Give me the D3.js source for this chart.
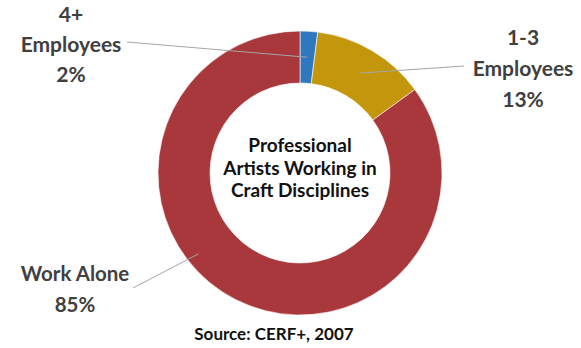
<!DOCTYPE html>
<html><head><meta charset="utf-8">
<script src="https://cdn.jsdelivr.net/npm/d3@7"></script>
<style>body{margin:0;background:#fff}svg{display:block}</style>
</head><body>
<script>
const categories = ["4+ Employees", "1-3 Employees", "Work Alone"];
const values = [2, 13, 85];
const colors = ["#2E78BF", "#C4960C", "#A8383B"];
const labelLines = [["4+", "Employees", "2%"], ["1-3", "Employees", "13%"], ["Work Alone", "85%"]];
const centerTitle = ["Professional", "Artists Working in", "Craft Disciplines"];
const sourceText = "Source: CERF+, 2007";

const W = 581, H = 348;
const cx = 300, cy = 173, rOuter = 142, rInner = 90;
const svg = d3.select("body").append("svg").attr("width", W).attr("height", H);
const g = svg.append("g").attr("transform", `translate(${cx},${cy})`);

const pie = d3.pie().sort(null).value(d => d);
const arcs = pie(values);
const arc = d3.arc().innerRadius(rInner).outerRadius(rOuter);

g.selectAll("path.slice").data(arcs).enter().append("path")
  .attr("class", "slice")
  .attr("d", arc)
  .attr("fill", (d, i) => colors[i])
  .attr("stroke", "#fff").attr("stroke-width", 0.6);

const labelPos = [
  {x: 71, y: 22, anchorX: 127, anchorY: 42},
  {x: 523, y: 45, anchorX: 464, anchorY: 66},
  {x: 75, y: 281, anchorX: 133, anchorY: 288}
];
const lineH = [30, 31, 31];
const labelSize = [21, 21, 20.5];
const fontFam = "Lato, 'Noto Sans', sans-serif";

arcs.forEach((a, i) => {
  let [px, py] = arc.centroid(a);
  if (i === 2) {
    const ang = a.startAngle + (a.endAngle - a.startAngle) * 0.58;
    const r = 130;
    px = r * Math.sin(ang); py = -r * Math.cos(ang);
  }
  svg.append("line")
    .attr("x1", labelPos[i].anchorX).attr("y1", labelPos[i].anchorY)
    .attr("x2", cx + px).attr("y2", cy + py)
    .attr("stroke", "#a6a6a6").attr("stroke-width", 1);
  const t = svg.append("text")
    .attr("text-anchor", "middle")
    .attr("font-family", fontFam).attr("font-weight", 700)
    .attr("font-size", labelSize[i]).attr("fill", "#404040");
  labelLines[i].forEach((s, k) => {
    t.append("tspan").attr("x", labelPos[i].x).attr("y", labelPos[i].y + k * lineH[i]).text(s);
  });
});

const ct = svg.append("text").attr("text-anchor", "middle")
  .attr("font-family", fontFam).attr("font-weight", 700)
  .attr("font-size", 19).attr("fill", "#111");
centerTitle.forEach((s, k) => {
  ct.append("tspan").attr("x", cx).attr("y", 152 + k * 22.5).text(s);
});

svg.append("text").attr("x", 274).attr("y", 340)
  .attr("text-anchor", "middle")
  .attr("font-family", fontFam).attr("font-weight", 700)
  .attr("font-size", 17).attr("fill", "#111")
  .text(sourceText);
</script>
</body></html>
